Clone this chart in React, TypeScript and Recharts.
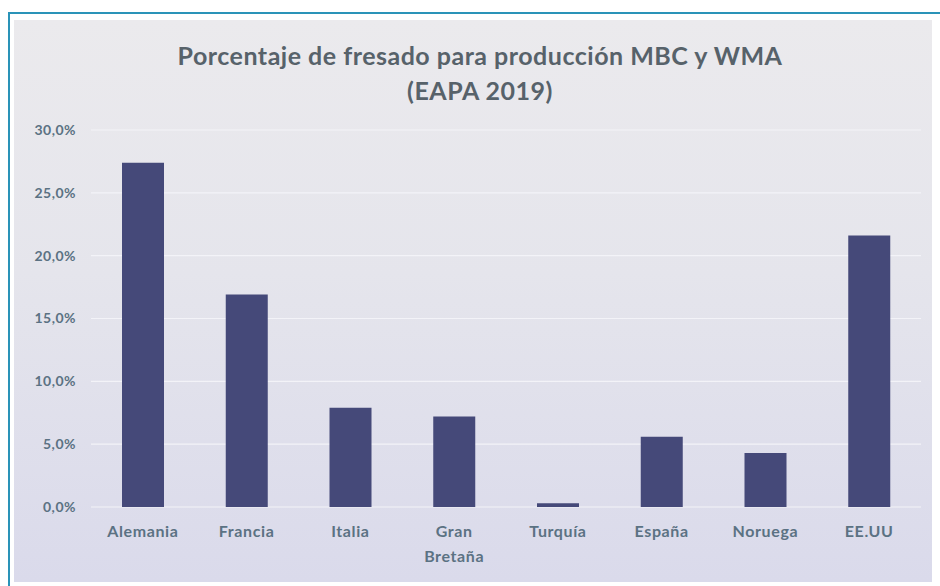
import React from 'react';
import { BarChart, Bar, XAxis, YAxis, CartesianGrid } from 'recharts';

const categories = ['Alemania', 'Francia', 'Italia', 'Gran Bretaña', 'Turquía', 'España', 'Noruega', 'EE.UU'];
const values = [27.4, 16.9, 7.9, 7.2, 0.3, 5.6, 4.3, 21.6];
const yTicks = [0, 5, 10, 15, 20, 25, 30];
const titleLines = ['Porcentaje de fresado para producción MBC y WMA', '(EAPA 2019)'];

const data = categories.map((c, i) => ({ name: c, value: values[i] }));

const FONT = 'Lato, "Open Sans", sans-serif';
const LABEL_COLOR = '#5b7283';

const fmt = (v: number) => v.toFixed(1).replace('.', ',') + '%';

const XTick = (props: any) => {
  const { x, y, payload } = props;
  const words = String(payload.value).split(' ');
  return (
    <text x={x} y={y} textAnchor="middle" fill={LABEL_COLOR} fontFamily={FONT} fontSize={16} fontWeight={700} letterSpacing={0.6}>
      {words.map((w: string, i: number) => (
        <tspan key={i} x={x} dy={i === 0 ? '0.71em' : '1.55em'}>{w}</tspan>
      ))}
    </text>
  );
};

export default function App() {
  return (
    <div style={{ position: 'fixed', left: 0, top: 0, width: 940, height: 586, background: '#ffffff', overflow: 'hidden' }}>
      <div style={{ position: 'absolute', left: 8, top: 12, width: 940, height: 2, background: '#2a93b8' }} />
      <div style={{ position: 'absolute', left: 8, top: 12, width: 2, height: 586, background: '#2a93b8' }} />
      <div
        style={{
          position: 'absolute', left: 14, top: 20, width: 918, height: 562,
          background: 'linear-gradient(180deg, #ebeaed 0%, #e5e5ec 45%, #dadaeb 100%)',
        }}
      />
      <div
        style={{
          position: 'absolute', left: 0, top: 38, width: 960, textAlign: 'center',
          fontFamily: FONT, fontSize: 25, fontWeight: 700, color: '#57626a', lineHeight: '35px', letterSpacing: 0.5,
        }}
      >
        {titleLines.map((t, i) => (<div key={i}>{t}</div>))}
      </div>
      <div style={{ position: 'absolute', left: 0, top: 0 }}>
        <BarChart width={940} height={586} data={data} margin={{ top: 130, right: 19, bottom: 0, left: 31 }}>
          <CartesianGrid vertical={false} stroke="#f3f3f8" strokeWidth={1.2} />
          <XAxis
            dataKey="name"
            height={79}
            axisLine={false}
            tickLine={false}
            tickSize={0}
            tickMargin={19}
            interval={0}
            tick={<XTick />}
          />
          <YAxis
            width={60}
            domain={[0, 30]}
            ticks={yTicks}
            tickFormatter={fmt}
            axisLine={false}
            tickLine={false}
            tickSize={0}
            tickMargin={15}
            tick={{ fill: LABEL_COLOR, fontFamily: FONT, fontSize: 14, fontWeight: 700, letterSpacing: 0.5 }}
          />
          <Bar dataKey="value" fill="#454979" barSize={42} isAnimationActive={false} />
        </BarChart>
      </div>
    </div>
  );
}
